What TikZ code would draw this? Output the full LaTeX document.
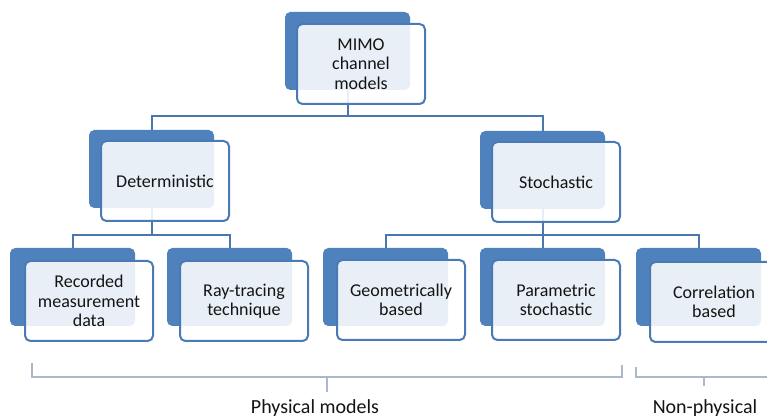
\documentclass[tikz,border=0pt]{standalone}
\usepackage{fontspec}
\setmainfont{Carlito}
\usetikzlibrary{backgrounds}
\definecolor{boxblue}{HTML}{4F81BD}
\definecolor{edgeblue}{HTML}{4A7AB5}
\definecolor{lineblue}{HTML}{4A77AE}
\definecolor{brk}{HTML}{A9B8CC}
\definecolor{txt}{HTML}{141414}
\tikzset{
  backbox/.style={draw=none, fill=boxblue, rounded corners=4pt, minimum width=93.75pt, minimum height=58.5pt, inner sep=0pt, outer sep=0pt, anchor=north west},
  frontbox/.style={draw=edgeblue, line width=1.5pt, fill=white, fill opacity=0.88, text opacity=1, rounded corners=4pt, minimum width=96pt, minimum height=60pt, inner sep=0pt, outer sep=0pt, anchor=north west, align=center, text=txt, font=\fontsize{13.5}{14.5}\selectfont},
  conn/.style={draw=lineblue, line width=1.5pt},
  brace/.style={draw=brk, line width=1pt},
  brlabel/.style={text=txt, font=\fontsize{15}{17}\selectfont, anchor=base, inner sep=0pt}
}
\begin{document}
\begin{tikzpicture}[x=0.75pt, y=-0.75pt]
\useasboundingbox (0,0) rectangle (767,416);
% back boxes
\node[backbox] (mimoB) at (285,12) {};
\node[backbox] (detB) at (89,130) {};
\node[backbox] (stoB) at (480,131) {};
\node[backbox] (recB) at (10,248) {};
\node[backbox] (rayB) at (167,248) {};
\node[backbox] (geoB) at (323,248) {};
\node[backbox] (parB) at (480,248) {};
\node[backbox] (corB) at (636,248) {};
% front boxes
\node[frontbox] (mimo) at ([shift={(12,12)}]mimoB.north west) {MIMO\\channel\\models};
\node[frontbox] (det) at ([shift={(12,11)}]detB.north west) {Deterministic};
\node[frontbox] (sto) at ([shift={(12,11)}]stoB.north west) {Stochastic};
\node[frontbox] (rec) at ([shift={(15,13)}]recB.north west) {Recorded\\measurement\\data};
\node[frontbox] (ray) at ([shift={(13,13)}]rayB.north west) {Ray-tracing\\technique};
\node[frontbox] (geo) at ([shift={(14,12)}]geoB.north west) {Geometrically\\based};
\node[frontbox] (par) at ([shift={(12,12)}]parB.north west) {Parametric\\stochastic};
\node[frontbox] (cor) at ([shift={(14,14)}]corB.north west) {Correlation\\based};
% junctions
\coordinate (j1) at ([shift={(0,26)}]mimoB.south);
\coordinate (j2) at ([shift={(0,27)}]detB.south);
\coordinate (j3) at ([shift={(0,26)}]stoB.south);
% bracket coordinates
\coordinate (pa) at (32,363);
\coordinate (pb) at (622,365);
\coordinate (pc) at (327,377);
\coordinate (pd) at (327,392);
\coordinate (na) at (636,367);
\coordinate (nb) at (767,377);
\coordinate (nc) at (704,377);
\coordinate (nd) at (704,386);
\node[brlabel] (phys) at (315,413) {Physical models};
\node[brlabel] (nonphys) at (705,413) {Non-physical};
\begin{scope}[on background layer]
  \fill[white] (0,0) rectangle (767,416);
  \draw[conn] (mimoB.south) -- (j1);
  \draw[conn] (detB.north) |- (j1) -| (stoB.north);
  \draw[conn] (detB.south) -- (j2);
  \draw[conn] (recB.north) |- (j2) -| (rayB.north);
  \draw[conn] (stoB.south) -- (j3);
  \draw[conn] (geoB.north) |- (j3) -| (corB.north);
  \draw[conn] (parB.north) -- (j3);
  \draw[brace] (pa) |- (pc) -| (pb);
  \draw[brace] (pc) -- (pd);
  \draw[brace] (na) |- (nb);
  \draw[brace] (nc) -- (nd);
\end{scope}
\end{tikzpicture}
\end{document}
